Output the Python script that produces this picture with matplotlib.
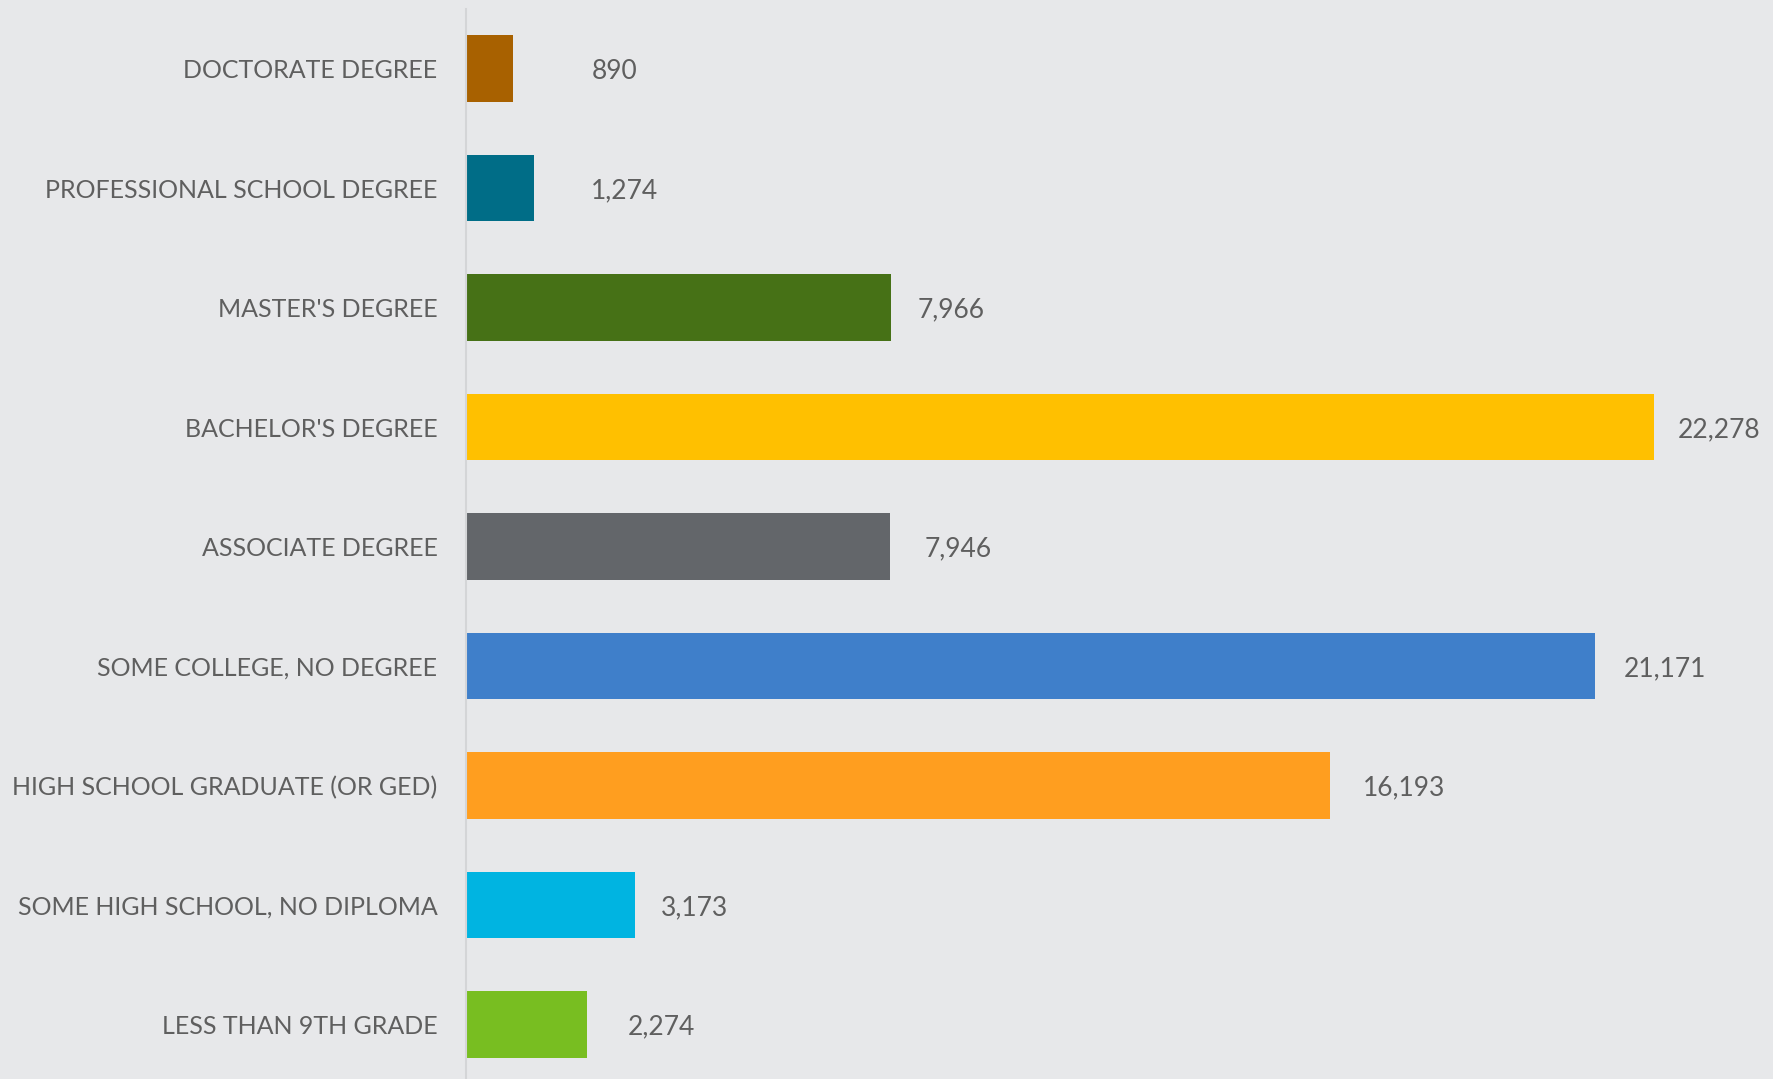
import matplotlib.pyplot as plt

categories = [
    "DOCTORATE DEGREE",
    "PROFESSIONAL SCHOOL DEGREE",
    "MASTER'S DEGREE",
    "BACHELOR'S DEGREE",
    "ASSOCIATE DEGREE",
    "SOME COLLEGE, NO DEGREE",
    "HIGH SCHOOL GRADUATE (OR GED)",
    "SOME HIGH SCHOOL, NO DIPLOMA",
    "LESS THAN 9TH GRADE",
]
values = [890, 1274, 7966, 22278, 7946, 21171, 16193, 3173, 2274]
colors = ["#a86100", "#006d87", "#467116", "#ffc000", "#63666a",
          "#3f7fca", "#ff9e1f", "#00b4e1", "#78be21"]
# label gap from bar end, in pixels (labels sit a bit unevenly in the original)
label_gaps = [78, 57, 27, 24, 35, 29, 33, 26, 40]

bg = "#e7e8ea"
txt = "#5f5f5f"
plt.rcParams['font.family'] = ['Lato', 'DejaVu Sans']

fig = plt.figure(figsize=(17.73, 10.79), dpi=100, facecolor=bg)
ax = fig.add_axes([466 / 1773, 0, 1280 / 1773, 1 - 8.75 / 1079])
ax.set_facecolor(bg)

pos = list(range(len(categories)))
ax.barh(pos, values, height=0.56, color=colors)
ax.set_xlim(0, 24000)
ax.set_ylim(8.456, -0.5)

for y, v, g in zip(pos, values, label_gaps):
    ax.annotate(f"{v:,}", (v, y), xytext=(g * 0.72, 0), textcoords="offset points",
                ha="left", va="center_baseline", fontsize=19, color=txt)

ax.set_yticks(pos)
ax.set_yticklabels(categories, fontsize=18, color=txt)
ax.tick_params(axis="y", length=0, pad=20.6)
ax.set_xticks([])
for s in ["top", "right", "bottom"]:
    ax.spines[s].set_visible(False)
ax.spines["left"].set_color("#d4d5d7")
ax.spines["left"].set_linewidth(1.5)

fig.savefig("out.png", dpi=100, facecolor=bg)
